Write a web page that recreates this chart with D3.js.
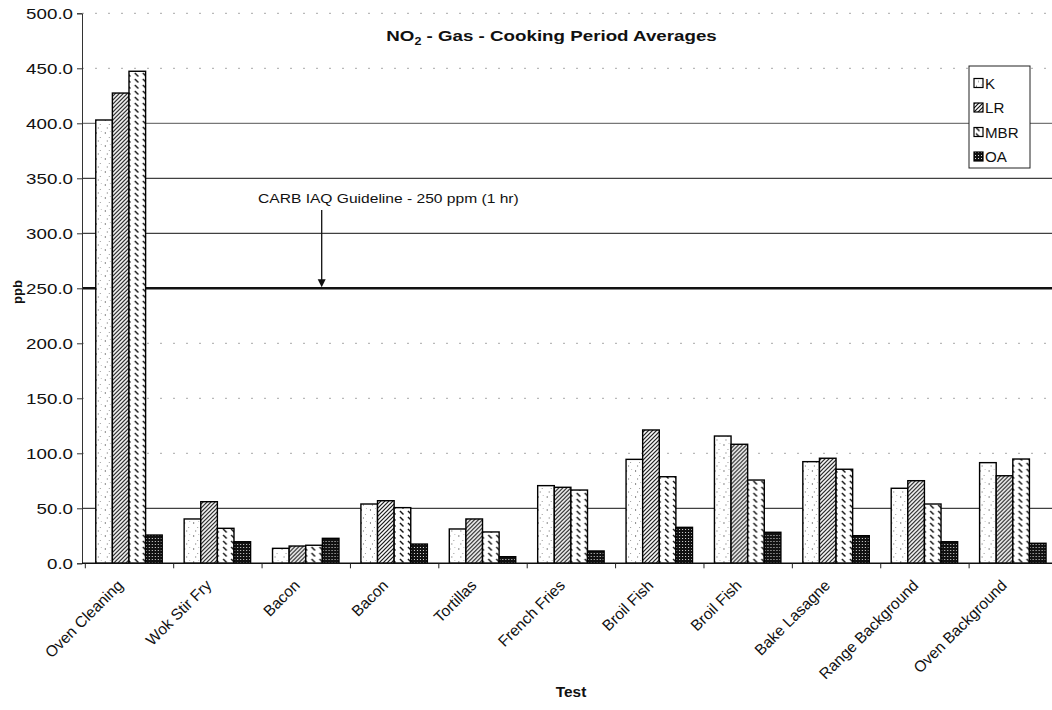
<!DOCTYPE html>
<html>
<head>
<meta charset="utf-8">
<script src="https://cdn.jsdelivr.net/npm/d3@7"></script>
<style>
  html, body { margin: 0; padding: 0; background: #fff; }
  svg { display: block; font-family: "Liberation Sans", Arial, Helvetica, sans-serif; }
</style>
</head>
<body>
<svg id="chart" width="1052" height="710"></svg>
<script>
// Test names (two repeated tests keep their own slot)
const categories = ["Oven Cleaning", "Wok Stir Fry", "Bacon", "Bacon", "Tortillas", "French Fries",
                    "Broil Fish", "Broil Fish", "Bake Lasagne", "Range Background", "Oven Background"];
// Measurement locations
const seriesNames = ["K", "LR", "MBR", "OA"];
// Cooking-period NO2 averages, ppb
const valuesK   = [403.0, 40.3, 13.6, 53.9, 31.2, 70.6,  94.5, 115.7, 92.4, 68.2, 91.5];
const valuesLR  = [427.5, 56.0, 15.7, 56.9, 40.3, 69.1, 121.2, 108.2, 95.5, 75.1, 79.6];
const valuesMBR = [447.3, 31.8, 16.4, 50.6, 28.5, 66.6,  78.7,  75.7, 85.5, 53.9, 94.8];
const valuesOA  = [ 25.7, 19.6, 22.7, 17.5,  6.0, 11.2,  32.7,  28.2, 25.1, 19.6, 18.2];
// Value axis ticks
const yTicks = [0, 50, 100, 150, 200, 250, 300, 350, 400, 450, 500];
// Guideline reference level
const guidelineValue = 250;
const guidelineText = "CARB IAQ Guideline - 250 ppm (1 hr)";

const seriesValues = [valuesK, valuesLR, valuesMBR, valuesOA];

const svg = d3.select("#chart");

// ---------- fill patterns ----------
const defs = svg.append("defs");

const pK = defs.append("pattern").attr("id", "pat-K").attr("patternUnits", "userSpaceOnUse")
  .attr("width", 9).attr("height", 13);
pK.append("rect").attr("width", 9).attr("height", 13).attr("fill", "#fff");
[[2, 2, 1, 2, "#8a8a8a"], [6, 7, 1, 1, "#9a9a9a"], [4, 10, 1, 2, "#b0b0b0"], [7, 1, 1, 1, "#c0c0c0"]]
  .forEach(([x, y, w, h, c]) => pK.append("rect").attr("x", x).attr("y", y).attr("width", w).attr("height", h).attr("fill", c));

const pLR = defs.append("pattern").attr("id", "pat-LR").attr("patternUnits", "userSpaceOnUse")
  .attr("width", 4).attr("height", 4);
pLR.append("rect").attr("width", 4).attr("height", 4).attr("fill", "#fff");
pLR.append("path").attr("d", "M-1,1 L1,-1 M0,4 L4,0 M3,5 L5,3")
  .attr("stroke", "#111").attr("stroke-width", 1.2);

const pMBR = defs.append("pattern").attr("id", "pat-MBR").attr("patternUnits", "userSpaceOnUse")
  .attr("width", 8).attr("height", 6);
pMBR.append("rect").attr("width", 8).attr("height", 6).attr("fill", "#fff");
pMBR.append("path").attr("d", "M2,1 L5.5,4.5").attr("stroke", "#111").attr("stroke-width", 1.4);

const pOA = defs.append("pattern").attr("id", "pat-OA").attr("patternUnits", "userSpaceOnUse")
  .attr("width", 3).attr("height", 3);
pOA.append("rect").attr("width", 3).attr("height", 3).attr("fill", "#111");
pOA.append("rect").attr("x", 1).attr("y", 1).attr("width", 1).attr("height", 1).attr("fill", "#ddd");

const fills = { K: "url(#pat-K)", LR: "url(#pat-LR)", MBR: "url(#pat-MBR)", OA: "url(#pat-OA)" };

// ---------- scales ----------
const plot = { left: 82, top: 13.3, bottom: 563.3, bandStart: 84.8, bandEnd: 1057 };

const y = d3.scaleLinear().domain([0, 500]).range([plot.bottom, plot.top]);
const x0 = d3.scaleBand().domain(d3.range(categories.length)).range([plot.bandStart, plot.bandEnd]);
const x1 = d3.scaleBand().domain(seriesNames).range([0, x0.bandwidth()]).paddingOuter(0.66);
const xEdges = d3.scaleLinear().domain([0, categories.length]).range([plot.bandStart, plot.bandEnd]);

// ---------- gridlines ----------
const faint = new Set([100, 150, 200, 450, 500]);
svg.append("g").selectAll("line")
  .data(yTicks.filter(v => v > 0))
  .join("line")
  .attr("x1", plot.left).attr("x2", 1052)
  .attr("y1", d => y(d)).attr("y2", d => y(d))
  .attr("stroke", d => faint.has(d) ? "#a8a8a8" : (d === 400 ? "#555" : "#111"))
  .attr("stroke-width", 1)
  .attr("stroke-dasharray", d => faint.has(d) ? "2,11" : null);

// guideline
svg.append("line")
  .attr("x1", plot.left).attr("x2", 1052)
  .attr("y1", y(guidelineValue)).attr("y2", y(guidelineValue))
  .attr("stroke", "#111").attr("stroke-width", 2.6);

// ---------- bars ----------
const groups = svg.append("g").selectAll("g")
  .data(categories.map((c, i) => i))
  .join("g")
  .attr("transform", i => `translate(${x0(i)},0)`);

groups.selectAll("rect")
  .data(i => seriesNames.map((s, k) => ({ s, v: seriesValues[k][i] })))
  .join("rect")
  .attr("x", d => x1(d.s))
  .attr("width", x1.bandwidth())
  .attr("y", d => y(d.v))
  .attr("height", d => y(0) - y(d.v))
  .attr("fill", d => fills[d.s])
  .attr("stroke", "#000")
  .attr("stroke-width", 1.4);

// ---------- axes ----------
const yAxis = svg.append("g")
  .attr("transform", `translate(${plot.left},0)`)
  .call(d3.axisLeft(y).tickValues(yTicks).tickSize(5).tickFormat(d => d.toFixed(1)));
yAxis.select(".domain").attr("stroke", "#333");
yAxis.selectAll(".tick line").attr("stroke", "#333");
yAxis.selectAll(".tick text")
  .attr("font-size", 15).attr("fill", "#111")
  .attr("x", -9 / 1.25)
  .attr("transform", "scale(1.25,1)");

const xAxis = svg.append("g")
  .attr("transform", `translate(0,${plot.bottom})`)
  .call(d3.axisBottom(xEdges).tickValues(d3.range(categories.length + 1)).tickSize(5).tickFormat(""));
xAxis.select(".domain").attr("stroke", "#111").attr("stroke-width", 1.6)
  .attr("d", `M${plot.left},0H${plot.bandEnd}`);
xAxis.selectAll(".tick line").attr("stroke", "#222");

// category labels, rotated
svg.append("g").selectAll("text")
  .data(categories.map((c, i) => ({ c, i })))
  .join("text")
  .attr("transform", d => `translate(${x0(d.i) + x0.bandwidth() / 2 - 5},${plot.bottom + 23}) rotate(-45)`)
  .attr("text-anchor", "end")
  .attr("font-size", 15.5)
  .attr("fill", "#111")
  .text(d => d.c);

// axis titles
svg.append("text")
  .attr("transform", "translate(571,697) scale(1.1,1)")
  .attr("text-anchor", "middle")
  .attr("font-size", 14).attr("font-weight", "bold").attr("fill", "#111")
  .text("Test");

svg.append("text")
  .attr("transform", "translate(22,292) rotate(-90)")
  .attr("text-anchor", "middle")
  .attr("font-size", 13).attr("font-weight", "bold").attr("fill", "#111")
  .text("ppb");

// ---------- title ----------
const title = svg.append("text")
  .attr("transform", "translate(551.5,41) scale(1.25,1)")
  .attr("text-anchor", "middle")
  .attr("font-size", 15).attr("font-weight", "bold").attr("fill", "#111");
title.append("tspan").text("NO");
title.append("tspan").attr("font-size", 10).attr("dy", 4).text("2");
title.append("tspan").attr("dy", -4).text(" - Gas - Cooking Period Averages");

// ---------- guideline annotation ----------
svg.append("text")
  .attr("transform", "translate(258,203) scale(1.2,1)")
  .attr("font-size", 13).attr("fill", "#111")
  .text(guidelineText);

const arrowX = 321.7;
svg.append("line")
  .attr("x1", arrowX).attr("x2", arrowX)
  .attr("y1", 210).attr("y2", y(guidelineValue) - 6)
  .attr("stroke", "#111").attr("stroke-width", 1.3);
svg.append("path")
  .attr("d", d3.line()([[arrowX - 4, y(guidelineValue) - 9], [arrowX + 4, y(guidelineValue) - 9], [arrowX, y(guidelineValue) - 1]]) + "Z")
  .attr("fill", "#111");

// ---------- legend ----------
const legend = svg.append("g").attr("transform", "translate(969,66)");
legend.append("rect")
  .attr("width", 61).attr("height", 102)
  .attr("fill", "#fff").attr("stroke", "#222").attr("stroke-width", 1);
const items = legend.selectAll("g.item")
  .data(seriesNames)
  .join("g")
  .attr("class", "item")
  .attr("transform", (d, i) => `translate(5,${17.5 + i * 24.5})`);
items.append("rect")
  .attr("x", 0).attr("y", -5).attr("width", 9).attr("height", 9)
  .attr("fill", d => fills[d]).attr("stroke", "#000").attr("stroke-width", 1.2);
items.append("text")
  .attr("transform", "translate(11,5) scale(1.08,1)")
  .attr("font-size", 14).attr("fill", "#111")
  .text(d => d);
</script>
</body>
</html>
